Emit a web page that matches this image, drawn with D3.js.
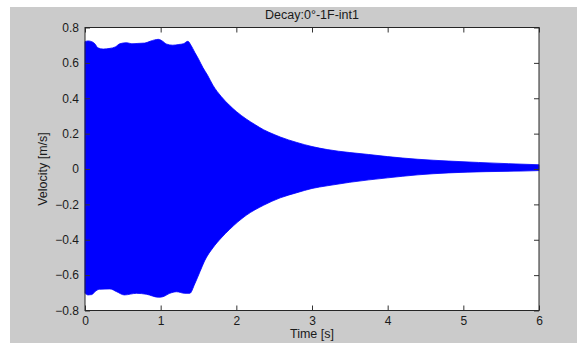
<!DOCTYPE html>
<html>
<head>
<meta charset="utf-8">
<script src="https://cdn.jsdelivr.net/npm/d3@7"></script>
<style>
  html, body { margin: 0; padding: 0; background: #ffffff; }
  svg { display: block; }
  text { font-family: Arial, "Liberation Sans", Helvetica, sans-serif; fill: #1a1a1a; }
</style>
</head>
<body>
<svg id="chart" width="577" height="343"></svg>
<script>
// Upper envelope of the velocity signal (time in s, velocity in m/s)
const upperTime = [0, 0.04, 0.09, 0.13, 0.17, 0.24, 0.33, 0.40, 0.46, 0.55, 0.62, 0.70, 0.79, 0.86, 0.92, 0.97, 1.02, 1.08, 1.16, 1.24, 1.30, 1.36, 1.40, 1.45, 1.50, 1.56, 1.62, 1.69, 1.80, 1.91, 2.00, 2.13, 2.25, 2.36, 2.50, 2.58, 2.80, 3.00, 3.20, 3.50, 3.75, 4.00, 4.40, 4.80, 5.20, 5.60, 6.00];
const upperVel  = [0.72, 0.724, 0.72, 0.708, 0.685, 0.678, 0.682, 0.69, 0.708, 0.714, 0.708, 0.71, 0.712, 0.722, 0.73, 0.733, 0.724, 0.706, 0.70, 0.704, 0.708, 0.722, 0.70, 0.66, 0.622, 0.572, 0.53, 0.474, 0.41, 0.36, 0.325, 0.283, 0.25, 0.222, 0.195, 0.181, 0.15, 0.127, 0.11, 0.093, 0.082, 0.07, 0.055, 0.045, 0.037, 0.03, 0.024];

// Lower envelope of the velocity signal
const lowerTime = [0, 0.04, 0.09, 0.13, 0.19, 0.33, 0.42, 0.52, 0.68, 0.81, 0.97, 1.03, 1.12, 1.21, 1.32, 1.385, 1.45, 1.52, 1.58, 1.69, 1.80, 1.91, 2.13, 2.36, 2.58, 2.80, 3.00, 3.20, 3.50, 4.00, 4.40, 4.80, 5.30, 5.75, 6.00];
const lowerVel  = [-0.703, -0.712, -0.71, -0.694, -0.68, -0.678, -0.694, -0.712, -0.703, -0.708, -0.725, -0.722, -0.703, -0.694, -0.703, -0.703, -0.65, -0.58, -0.52, -0.446, -0.39, -0.342, -0.262, -0.205, -0.163, -0.134, -0.11, -0.095, -0.075, -0.05, -0.033, -0.022, -0.015, -0.012, -0.009];

const xTicks = [0, 1, 2, 3, 4, 5, 6];
const yTicks = [-0.8, -0.6, -0.4, -0.2, 0, 0.2, 0.4, 0.6, 0.8];

const titleText = "Decay:0°-1F-int1";
const xLabel = "Time [s]";
const yLabel = "Velocity [m/s]";

const W = 577, H = 343;
const plot = { left: 85, right: 539, top: 27.5, bottom: 310.5 };

const svg = d3.select("#chart");

// figure background
svg.append("rect")
  .attr("x", 10).attr("y", 7)
  .attr("width", W - 10).attr("height", H - 7)
  .attr("fill", "#cbcbcb");

const x = d3.scaleLinear().domain([0, 6]).range([plot.left, plot.right]);
const y = d3.scaleLinear().domain([-0.8, 0.8]).range([plot.bottom, plot.top]);

// axes area
svg.append("rect")
  .attr("x", plot.left).attr("y", plot.top)
  .attr("width", plot.right - plot.left).attr("height", plot.bottom - plot.top)
  .attr("fill", "#ffffff");

// signal: filled from zero out to each envelope
const upperPts = upperTime.map((t, i) => [t, upperVel[i]]);
const lowerPts = lowerTime.map((t, i) => [t, lowerVel[i]]);
const envArea = d3.area()
  .x(d => x(d[0]))
  .y0(y(0))
  .y1(d => y(d[1]))
  .curve(d3.curveMonotoneX);

const sig = svg.append("g");
[upperPts, lowerPts].forEach(p => {
  sig.append("path")
    .attr("d", envArea(p))
    .attr("fill", "#0000ff")
    .attr("stroke", "#0000ff")
    .attr("stroke-width", 0.8);
});

// axes with inward ticks on all four sides
const tickLen = 5;
const fmtY = d => d === 0 ? "0" : d3.format(".1f")(d);

const gx = svg.append("g").attr("transform", `translate(0,${plot.bottom})`)
  .call(d3.axisBottom(x).tickValues(xTicks).tickFormat(d3.format("d")).tickSizeInner(-tickLen).tickSizeOuter(0).tickPadding(6));
const gxTop = svg.append("g").attr("transform", `translate(0,${plot.top})`)
  .call(d3.axisTop(x).tickValues(xTicks).tickFormat("").tickSizeInner(-tickLen).tickSizeOuter(0));
const gy = svg.append("g").attr("transform", `translate(${plot.left},0)`)
  .call(d3.axisLeft(y).tickValues(yTicks).tickFormat(fmtY).tickSizeInner(-tickLen).tickSizeOuter(0).tickPadding(6));
const gyRight = svg.append("g").attr("transform", `translate(${plot.right},0)`)
  .call(d3.axisRight(y).tickValues(yTicks).tickFormat("").tickSizeInner(-tickLen).tickSizeOuter(0));

[gx, gxTop, gy, gyRight].forEach(g => {
  g.select(".domain").remove();
  g.selectAll(".tick line").attr("stroke", "#333");
  g.selectAll("text").attr("font-size", 12).attr("fill", "#1a1a1a")
    .attr("font-family", "Arial, 'Liberation Sans', sans-serif");
});

// box
svg.append("rect")
  .attr("x", plot.left).attr("y", plot.top)
  .attr("width", plot.right - plot.left).attr("height", plot.bottom - plot.top)
  .attr("fill", "none").attr("stroke", "#262626").attr("stroke-width", 1);

// labels
svg.append("text")
  .attr("x", (plot.left + plot.right) / 2).attr("y", 19)
  .attr("text-anchor", "middle").attr("font-size", 12.5)
  .text(titleText);

svg.append("text")
  .attr("x", (plot.left + plot.right) / 2).attr("y", 338)
  .attr("text-anchor", "middle").attr("font-size", 12.5)
  .text(xLabel);

svg.append("text")
  .attr("transform", `translate(47,${(plot.top + plot.bottom) / 2}) rotate(-90)`)
  .attr("text-anchor", "middle").attr("font-size", 12.5)
  .text(yLabel);
</script>
</body>
</html>
